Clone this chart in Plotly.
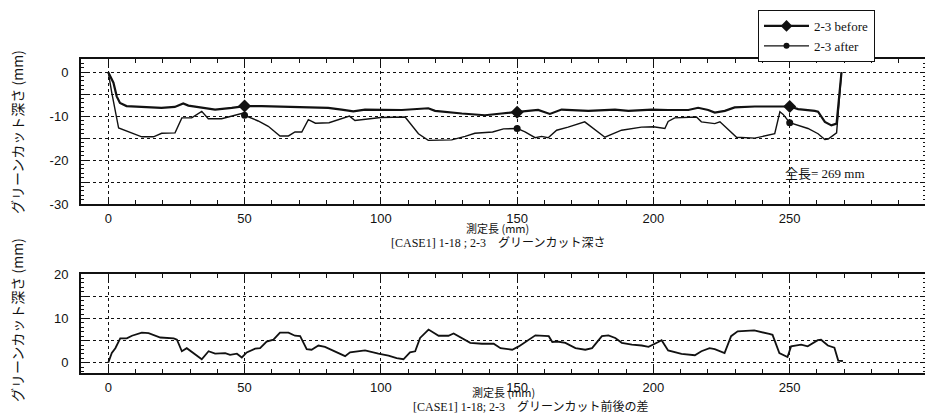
import numpy as np
import plotly.graph_objects as go

# ---- data ----
before_x = [0, 1.9, 3.1, 4.3, 6.7, 13.4, 19.5, 24.4, 27.5, 29.4, 35.5, 39.2, 45.3, 50, 56.3, 68.5, 80.7, 85.6,
            89.9, 94.2, 100.3, 107.7, 117.4, 119.9, 129.7, 138.2, 144.3, 150, 157.7, 162, 166.3, 176.1, 185.9,
            190.8, 199.4, 205.4, 212.8, 216.4, 220.1, 222.5, 226.2, 229.8, 237.2, 250, 253.1, 259.2, 260.4,
            262.9, 265.3, 267.2, 269]
before_y = [0, -2.4, -5.5, -7.0, -7.7, -7.9, -8.1, -7.9, -7.1, -7.6, -8.1, -8.5, -8.1, -7.7, -7.7, -7.9, -8.1, -8.5,
            -8.9, -8.5, -8.5, -8.6, -8.2, -8.8, -9.4, -9.8, -9.4, -9.1, -8.6, -9.5, -8.5, -8.8, -8.5,
            -8.8, -8.5, -8.6, -8.6, -8.1, -8.6, -9.2, -8.8, -8.0, -7.8, -7.8, -8.4, -8.8, -9.0,
            -11.3, -12.1, -11.7, 0]

after_x = [0, 1.3, 3.8, 12.3, 16.6, 19.6, 24.5, 27, 30.6, 34.3, 36.7, 41.6, 48.9, 50, 55, 58.7, 63, 66.1, 68.5,
           71, 73.4, 76, 81, 86, 88.5, 90.5, 94, 100, 108.9, 113.8, 117.4, 126, 130.9, 134.5, 141, 145, 150,
           152.9, 156.6, 159, 161.4, 164.5, 168.7, 174.8, 182.2, 188.3, 195.6, 200, 204.2, 205.4, 207.8,
           215.8, 217.6, 222.5, 224.4, 230.5, 237.2, 240.9, 244.5, 246.4, 247.6, 250, 253.1, 256.7, 260.4,
           262.9, 264.1, 267.2, 269]
after_y = [0, -4.7, -12.7, -14.7, -14.7, -13.9, -13.8, -10.4, -10.4, -8.9, -10.6, -10.6, -9.4, -9.8, -11.1, -12.3,
           -14.5, -14.5, -13.6, -13.6, -10.8, -11.6, -11.5, -10.5, -10.0, -11.0, -10.7, -10.3, -10.2, -14.0,
           -15.5, -15.4, -14.6, -13.9, -13.6, -12.9, -12.8, -13.6, -14.9, -14.6, -14.9, -13.2, -12.5, -11.3,
           -14.8, -13.2, -12.5, -12.4, -12.8, -11.2, -10.4, -10.2, -11.3, -11.7, -11.3, -14.8, -15.0, -14.5,
           -14.0, -9.0, -9.6, -11.5, -12.1, -12.8, -14.0, -15.3, -15.2, -13.8, 0]

diff_x = [0, 1.3, 2.6, 4.4, 6.8, 8.7, 12.3, 14.8, 19.1, 24, 25.2, 27, 28.8, 31.3, 34.3, 36.8, 39.2, 42.9, 44.7,
          47.2, 49, 50.8, 53.9, 55.7, 58.1, 60.6, 63, 66.1, 68.5, 70.4, 72.8, 74.6, 77.1, 79.5, 83.2, 86.9,
          88.7, 91.8, 94.2, 99.1, 102.8, 105.8, 108.3, 110.7, 112.6, 114.4, 117.5, 121.2, 124.8, 126.7,
          129.8, 132.8, 137.1, 141.4, 143.9, 148.2, 150.6, 154.3, 156.7, 161.6, 162.9, 164.7, 167.7, 171.4,
          175, 177.5, 181.1, 183.5, 186, 188.4, 192.1, 195.7, 198.2, 201.8, 203, 205.4, 210.3, 215.2, 217.6,
          220.6, 222.5, 226.1, 228.5, 230.9, 234.6, 237, 242.5, 243.7, 246.2, 249.2, 250.5, 254.2, 256.6,
          260.3, 261.5, 264, 266.4, 267.8, 269.5]
diff_y = [0, 2.2, 3.3, 5.5, 5.5, 6.1, 6.8, 6.7, 5.7, 5.5, 5.2, 2.6, 3.3, 2.2, 0.8, 2.6, 2.05, 2.2, 1.8,
          2.05, 1.2, 2.35, 3.2, 3.3, 4.8, 5.2, 6.8, 6.8, 6.1, 6.0, 3.1, 2.95, 3.9, 3.6, 2.6, 1.5,
          2.35, 2.6, 2.8, 2.05, 1.6, 1.06, 0.8, 2.35, 2.6, 5.6, 7.5, 6.1, 6.1, 6.6,
          5.6, 4.5, 4.3, 4.3, 3.3, 2.95, 3.7, 5.2, 6.2, 6.0, 4.7, 4.8, 4.5, 3.3,
          2.95, 3.3, 6.0, 6.2, 5.6, 4.5, 4.1, 3.9, 3.6, 4.7, 5.1, 2.8, 2.0, 1.7, 2.6,
          3.3, 3.1, 2.2, 6.0, 7.1, 7.3, 7.3, 6.5, 6.3, 2.2, 1.3, 3.7, 4.1, 3.7,
          5.1, 5.2, 3.9, 3.4, 0.5, 0.4]

marker_x = [50, 150, 250]
total_length_label = "全長= 269 mm"

# ---- figure ----
# the page body has an 8px margin, so the figure is 8px smaller and all positions shifted by 8px
OFF = 8
fig = go.Figure()
BLACK = "#111111"

def mk(xs, ys):
    return list(np.interp(marker_x, xs, ys))

fig.add_trace(go.Scatter(x=before_x, y=before_y, mode="lines", line=dict(color=BLACK, width=2.2),
                         showlegend=False, xaxis="x", yaxis="y"))
fig.add_trace(go.Scatter(x=marker_x, y=mk(before_x, before_y), mode="markers",
                         marker=dict(symbol="diamond", size=10, color=BLACK), showlegend=False,
                         xaxis="x", yaxis="y"))
fig.add_trace(go.Scatter(x=after_x, y=after_y, mode="lines", line=dict(color=BLACK, width=1.4),
                         showlegend=False, xaxis="x", yaxis="y"))
fig.add_trace(go.Scatter(x=marker_x, y=mk(after_x, after_y), mode="markers",
                         marker=dict(symbol="circle", size=7, color=BLACK), showlegend=False,
                         xaxis="x", yaxis="y"))
fig.add_trace(go.Scatter(x=[None], y=[None], mode="lines+markers", name="2-3 before",
                         line=dict(color=BLACK, width=2.2), marker=dict(symbol="diamond", size=9, color=BLACK),
                         xaxis="x", yaxis="y"))
fig.add_trace(go.Scatter(x=[None], y=[None], mode="lines+markers", name="2-3 after",
                         line=dict(color=BLACK, width=1.2), marker=dict(symbol="circle", size=6, color=BLACK),
                         xaxis="x", yaxis="y"))
fig.add_trace(go.Scatter(x=diff_x, y=diff_y, mode="lines", line=dict(color=BLACK, width=1.8),
                         showlegend=False, xaxis="x2", yaxis="y2"))

tickfont = dict(family="Liberation Sans Narrow, Liberation Sans, Arial", size=13, color=BLACK)

xcommon = dict(range=[-10, 300], dtick=50, tick0=0, showgrid=True, gridcolor=BLACK, griddash="dot", gridwidth=1,
               zeroline=False, showline=True, linecolor=BLACK, linewidth=2, mirror="ticks",
               ticks="inside", ticklen=6, tickcolor=BLACK, tickfont=tickfont, automargin=False,
               ticklabelstandoff=1,
               minor=dict(dtick=10, tick0=0, ticks="inside", ticklen=4, tickcolor=BLACK, showgrid=False),
               fixedrange=True)

ycommon = dict(showgrid=True, gridcolor=BLACK, griddash="dot", gridwidth=1, zeroline=False,
               showline=True, linecolor=BLACK, linewidth=2, mirror="ticks", ticks="inside", ticklen=6,
               tickcolor=BLACK, tickfont=tickfont, ticklabelstandoff=8, automargin=False,
               minor=dict(dtick=1, ticks="inside", ticklen=3, tickcolor=BLACK, showgrid=False),
               fixedrange=True)

W, H = 933 - OFF, 414 - OFF
fig.update_layout(
    width=W, height=H,
    margin=dict(l=81 - OFF, r=7, t=59 - OFF, b=41, autoexpand=False),
    paper_bgcolor="white", plot_bgcolor="white",
    xaxis=dict(domain=[0, 1], anchor="y", **xcommon),
    yaxis=dict(domain=[0.538, 1], anchor="x", range=[-30, 3],
               tickvals=[0, -5, -10, -15, -20, -25, -30], ticktext=["0", "", "-10", "", "-20", "", "-30"],
               **ycommon),
    xaxis2=dict(domain=[0, 1], anchor="y2", **xcommon),
    yaxis2=dict(domain=[0, 0.315], anchor="x2", range=[-2.3, 20],
                tickvals=[0, 5, 10, 15, 20], ticktext=["0", "", "10", "", "20"],
                **ycommon),
    legend=dict(xref="container", yref="container", x=(758 - OFF) / W, y=1 - (10 - OFF) / H,
                xanchor="left", yanchor="top", bordercolor=BLACK, borderwidth=1,
                bgcolor="white", font=dict(family="Liberation Serif", size=13, color=BLACK),
                tracegroupgap=0, itemwidth=45),
    showlegend=True,
)

cap_font = dict(family="Liberation Serif, Noto Sans CJK JP", size=12, color=BLACK)
jp_font = dict(family="Noto Sans CJK JP", size=11, color=BLACK)
ytitle_font = dict(family="Noto Sans CJK JP", size=14, color=BLACK)

def pa(px, py, text, font, **kw):
    # px, py are page pixel positions of the reference; converted to plot-area fractions
    return dict(x=(px - 81) / 845, y=(373 - py) / 314, xref="paper", yref="paper", text=text,
                showarrow=False, font=font, xanchor="center", yanchor="middle", **kw)

ann = [
    dict(x=263, y=-23, xref="x", yref="y", text=total_length_label, showarrow=False,
         xanchor="center", yanchor="middle",
         font=dict(family="Liberation Serif, Noto Sans CJK JP", size=13, color=BLACK)),
    pa(497, 228, "測定長 (mm)", jp_font),
    pa(498, 243, "[CASE1] 1-18 ; 2-3　グリーンカット深さ", cap_font),
    pa(503, 392, "測定長 (mm)", jp_font),
    pa(530, 406, "[CASE1] 1-18; 2-3　グリーンカット前後の差", cap_font),
    pa(17, 132, "グリーンカット深さ (mm)", ytitle_font, textangle=-90),
    pa(17, 320, "グリーンカット深さ (mm)", ytitle_font, textangle=-90),
]
fig.update_layout(annotations=ann)

fig.write_html("out.html")
